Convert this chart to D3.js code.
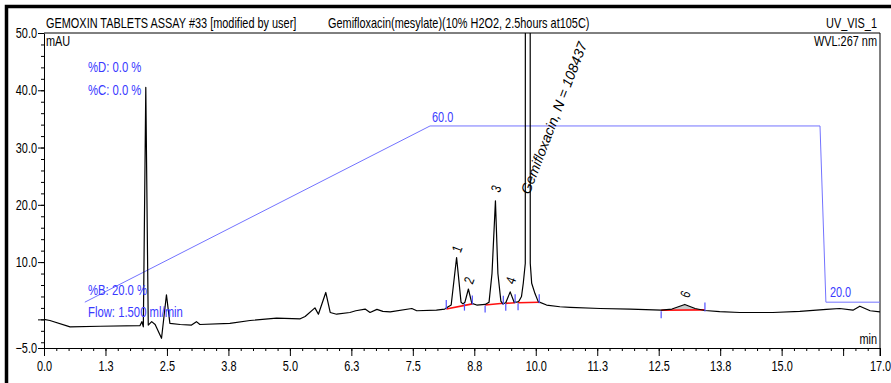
<!DOCTYPE html>
<html>
<head>
<meta charset="utf-8">
<script src="https://cdn.jsdelivr.net/npm/d3@7"></script>
<style>
  body { margin: 0; background: #fff; }
  svg text { font-family: 'Liberation Sans', Arial, sans-serif; }
</style>
</head>
<body>
<div id="chart"></div>
<script>
// chromatogram trace, time (min) and signal (mAU)
const traceTime = [0.00, 0.12, 0.53, 1.14, 1.95, 1.99, 2.02, 2.07, 2.12, 2.19, 2.26, 2.39, 2.49, 2.56, 2.77, 3.00, 3.10, 3.17, 3.78, 4.19, 4.73, 5.21, 5.31, 5.51, 5.58, 5.73, 5.82, 5.95, 6.22, 6.34, 6.53, 6.63, 6.77, 6.89, 7.04, 7.48, 7.58, 7.98, 8.15, 8.22,
  8.28, 8.39, 8.48, 8.52, 8.56, 8.63, 8.70, 8.80, 8.97, 9.05, 9.11, 9.18, 9.23, 9.29, 9.33, 9.39, 9.48, 9.56, 9.62,
  9.66, 9.71, 9.746, 9.787, 9.79, 9.885, 9.888, 9.917, 9.984, 10.05, 10.22, 10.49, 10.70, 11.31, 11.92, 12.55, 12.77, 13.03, 13.24, 13.44, 13.74, 14.15, 14.82, 15.37, 15.91, 16.18, 16.45, 16.59, 16.80, 17.00];
const traceMAU = [0.0, -0.2, -1.3, -1.2, -1.1, -0.4, -1.3, 40.5, -1.0, -0.4, -0.9, -3.3, 4.3, -0.7, -0.9, -1.0, -0.4, -0.9, -0.7, -0.2, 0.2, 0.1, 0.5, 2.0, 0.9, 4.7, 1.2, 0.9, 1.2, 1.5, 1.8, 1.2, 1.75, 1.4, 1.3, 1.9, 1.5, 1.6, 1.8, 2.2,
  2.5, 10.8, 3.0, 2.7, 3.0, 5.3, 2.8, 2.5, 2.6, 3.0, 8.0, 20.7, 8.0, 3.2, 2.7, 2.9, 4.8, 3.0, 3.0,
  3.2, 4.0, 6.3, 9.8, 120, 120, 9.8, 6.3, 4.5, 3.1, 2.5, 2.2, 2.1, 1.9, 1.8, 1.6, 1.8, 2.6, 1.9, 1.55, 1.35, 1.2, 1.2, 1.4, 1.75, 1.9, 1.6, 2.3, 1.5, 1.3];

// pump gradient (%B)
const gradTime = [0.83, 7.85, 15.78, 15.90, 17.00];
const gradB = [20, 60, 60, 20, 20];

// peak labels
const peakNames = ["1", "2", "3", "4", "Gemifloxacin, N = 108437", "6"];
const peakTime = [8.39, 8.63, 9.18, 9.48, 9.79, 13.03];
const peakLabelMAU = [11.5, 6.0, 22.0, 6.0, 21.7, 3.6];

// integration baselines
const baseStartT = [8.18, 8.97, 9.39, 9.64, 12.55];
const baseStartV = [1.8, 2.5, 2.8, 2.9, 1.6];
const baseEndT = [8.71, 9.34, 9.58, 10.07, 13.44];
const baseEndV = [2.7, 2.8, 2.9, 3.0, 1.65];
const markerT = [8.18, 8.55, 8.71, 8.97, 9.34, 9.39, 9.58, 9.64, 10.07, 12.55, 13.44];

const xMajor = d3.range(0, 16.3, 1.25).concat([17]);
const xMinor = d3.range(0, 17.01, 0.25);
const yMajor = [50, 40, 30, 20, 10, 0, -5];
const yMinor = d3.range(-4, 50, 2);

const width = 891, height = 383;
const pLeft = 44, pRight = 880, pTop = 33, pBottom = 348;
const blue = "#3a3aff";
const narrow = 0.78; // squeeze text horizontally, like a narrow face

const svg = d3.select("#chart").append("svg")
  .attr("width", width)
  .attr("height", height);

const x = d3.scaleLinear().domain([0, 17]).range([pLeft, pRight]);
const y = d3.scaleLinear().domain([-5, 50]).range([pBottom, pTop]);
// %B drawn on its own scale over the same plot box
const yB = d3.scaleLinear().domain([9.6, 81.1]).range([pBottom, pTop]);

function label(px, py, str, size, anchor, color) {
  return svg.append("text")
    .attr("transform", `translate(${px},${py}) scale(${narrow},1)`)
    .attr("font-size", size)
    .attr("text-anchor", anchor || "start")
    .attr("fill", color || "#000")
    .text(str);
}

// outer thick frame
svg.append("rect")
  .attr("x", 6.5).attr("y", 6.5)
  .attr("width", 920).attr("height", 420)
  .attr("fill", "none").attr("stroke", "#000").attr("stroke-width", 3.5);

svg.append("defs").append("clipPath").attr("id", "plotclip")
  .append("rect").attr("x", pLeft).attr("y", pTop).attr("width", pRight - pLeft).attr("height", pBottom - pTop);

// minor ticks
svg.append("g")
  .attr("transform", `translate(0,${pBottom})`)
  .call(d3.axisBottom(x).tickValues(xMinor).tickSize(3).tickSizeOuter(0).tickFormat(""))
  .call(g => g.select(".domain").remove());
svg.append("g")
  .attr("transform", `translate(${pLeft},0)`)
  .call(d3.axisLeft(y).tickValues(yMinor).tickSize(3).tickSizeOuter(0).tickFormat(""))
  .call(g => g.select(".domain").remove());

// major ticks
const xAxis = svg.append("g")
  .attr("transform", `translate(0,${pBottom})`)
  .call(d3.axisBottom(x).tickValues(xMajor).tickSize(8).tickSizeOuter(0)
    .tickFormat(d => Math.abs(d - 16.25) < 1e-6 ? "" : d3.format(".1f")(d)));
xAxis.selectAll("text")
  .attr("font-size", 14).attr("dy", "0.85em").attr("fill", "#000")
  .attr("font-family", "'Liberation Sans', Arial, sans-serif")
  .attr("transform", `scale(${narrow},1)`);

const yAxis = svg.append("g")
  .attr("transform", `translate(${pLeft},0)`)
  .call(d3.axisLeft(y).tickValues(yMajor).tickSize(6).tickSizeOuter(0)
    .tickFormat(d => d === 0 ? "" : d3.format(".1f")(d)));
yAxis.selectAll("text")
  .attr("font-size", 14).attr("fill", "#000")
  .attr("font-family", "'Liberation Sans', Arial, sans-serif")
  .attr("x", -7 / narrow)
  .attr("transform", `scale(${narrow},1)`);

// box top and right
svg.append("path")
  .attr("d", `M${pLeft},${pTop}H${pRight}V${pBottom + 8}`)
  .attr("fill", "none").attr("stroke", "#000");

// header texts
label(46, 28, "GEMOXIN TABLETS ASSAY #33 [modified by user]", 14);
label(328, 28, "Gemifloxacin(mesylate)(10% H2O2, 2.5hours at105C)", 14);
label(877, 28, "UV_VIS_1", 14, "end");
label(46, 46, "mAU", 14);
label(877, 46, "WVL:267 nm", 14, "end");
label(877, 344, "min", 14, "end");

const plot = svg.append("g").attr("clip-path", "url(#plotclip)");

// gradient line
const gradPts = gradTime.map((t, i) => [t, gradB[i]]);
plot.append("path")
  .datum(gradPts)
  .attr("fill", "none")
  .attr("stroke", "#7373ff")
  .attr("stroke-width", 1)
  .attr("d", d3.line().x(d => x(d[0])).y(d => yB(d[1])));

label(x(gradTime[1]) + 2, yB(gradB[1]) - 4, d3.format(".1f")(gradB[1]), 14, "start", blue);
label(x(gradTime[3]) + 4, yB(gradB[3]) - 5, d3.format(".1f")(gradB[3]), 14, "start", blue);

const infoLines = ["%D: 0.0 %", "%C: 0.0 %", "%B: 20.0 %", "Flow: 1.500 ml/min"];
const infoY = [72, 95, 295, 317];
infoLines.forEach((s, i) => label(88, infoY[i], s, 14.5, "start", blue));

// shaded area of peak 6
const interp = t => {
  const i = d3.bisectLeft(traceTime, t);
  if (i <= 0) return traceMAU[0];
  const t0 = traceTime[i - 1], t1 = traceTime[i];
  return traceMAU[i - 1] + (traceMAU[i] - traceMAU[i - 1]) * (t - t0) / (t1 - t0);
};
const k = baseStartT.length - 1;
const areaPts = [baseStartT[k]].concat(traceTime.filter(t => t > baseStartT[k] && t < baseEndT[k]), [baseEndT[k]]);
const baseAt = t => baseStartV[k] + (baseEndV[k] - baseStartV[k]) * (t - baseStartT[k]) / (baseEndT[k] - baseStartT[k]);
plot.append("path")
  .datum(areaPts)
  .attr("fill", "#c8c8c8")
  .attr("d", d3.area().x(d => x(d)).y0(d => y(baseAt(d))).y1(d => y(interp(d))));

// integration baselines
plot.selectAll(".base")
  .data(baseStartT)
  .join("line")
  .attr("class", "base")
  .attr("x1", (d, i) => x(d))
  .attr("y1", (d, i) => y(baseStartV[i]))
  .attr("x2", (d, i) => x(baseEndT[i]))
  .attr("y2", (d, i) => y(baseEndV[i]))
  .attr("stroke", "#ff1010")
  .attr("stroke-width", 1.6);

// trace
const tracePts = traceTime.map((t, i) => [t, traceMAU[i]]);
plot.append("path")
  .datum(tracePts)
  .attr("fill", "none")
  .attr("stroke", "#000")
  .attr("stroke-width", 1.2)
  .attr("stroke-linejoin", "round")
  .attr("d", d3.line().x(d => x(d[0])).y(d => y(d[1])));

// integration markers
plot.selectAll(".mark")
  .data(markerT)
  .join("line")
  .attr("class", "mark")
  .attr("x1", d => x(d)).attr("x2", d => x(d))
  .attr("y1", (d, i) => y(Math.min(interp(d), 3)) - (i % 2 ? -1 : 8))
  .attr("y2", (d, i) => y(Math.min(interp(d), 3)) + (i % 2 ? 8 : 1))
  .attr("stroke", "#5050ff")
  .attr("stroke-width", 1.2);

// peak labels
svg.selectAll(".plabel")
  .data(peakNames)
  .join("text")
  .attr("class", "plabel")
  .attr("transform", (d, i) => `translate(${x(peakTime[i]) + 4},${y(peakLabelMAU[i])}) rotate(-69) scale(${d.length > 2 ? 1 : narrow},1)`)
  .attr("font-size", 14)
  .attr("font-style", d => d.length > 2 ? "italic" : "normal")
  .text(d => d);
</script>
</body>
</html>
